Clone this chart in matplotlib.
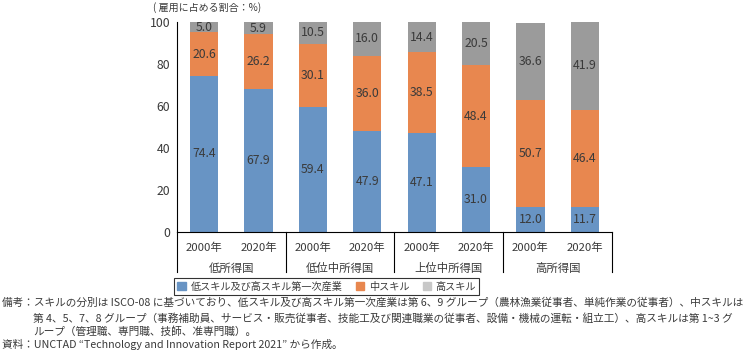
import matplotlib.pyplot as plt
import matplotlib.patches as mpatches
import numpy as np

plt.rcParams['font.family'] = ['Noto Sans CJK JP', 'DejaVu Sans']

# data
years = ['2000年', '2020年'] * 4
groups = ['低所得国', '低位中所得国', '上位中所得国', '高所得国']
low_skill = [74.4, 67.9, 59.4, 47.9, 47.1, 31.0, 12.0, 11.7]
mid_skill = [20.6, 26.2, 30.1, 36.0, 38.5, 48.4, 50.7, 46.4]
high_skill = [5.0, 5.9, 10.5, 16.0, 14.4, 20.5, 36.6, 41.9]
series_names = ['低スキル及び高スキル第一次産業', '中スキル', '高スキル']
yticks = [0, 20, 40, 60, 80, 100]

c_blue = '#6894C4'
c_orange = '#E8874F'
c_gray = '#9B9B9B'
c_text = '#3a3a3a'

fig = plt.figure(figsize=(7.53, 3.56), dpi=100)
ax = fig.add_axes([0.235, 0.3483, 0.5777, 0.59])

x = np.arange(len(years))
w = 0.52
bottoms = np.zeros(len(years))
for vals, col in zip([low_skill, mid_skill, high_skill], [c_blue, c_orange, c_gray]):
    ax.bar(x, vals, w, bottom=bottoms, color=col)
    for xi, b, v in zip(x, bottoms, vals):
        ax.text(xi, b + v / 2, f'{v:.1f}', ha='center', va='center',
                fontsize=8.8, color=c_text)
    bottoms = bottoms + np.array(vals)

ax.set_xlim(-0.5, 7.5)
ax.set_ylim(0, 100)
ax.set_yticks(yticks)
ax.tick_params(axis='y', length=0, labelsize=8.8, labelcolor=c_text, pad=5)
ax.set_xticks([])
for s in ['top', 'right']:
    ax.spines[s].set_visible(False)
ax.spines['left'].set_color('black')
ax.spines['bottom'].set_color('black')
ax.spines['left'].set_linewidth(0.8)
ax.spines['bottom'].set_linewidth(0.8)

# category labels below the axis
trans = ax.get_xaxis_transform()
for xi, yl in zip(x, years):
    ax.text(xi, -0.077, yl, transform=trans, ha='center', va='center',
            fontsize=8.2, color=c_text)
for gi, g in enumerate(groups):
    ax.text(gi * 2 + 0.5, -0.172, g, transform=trans, ha='center', va='center',
            fontsize=8.2, color=c_text)
for sep in [-0.5, 1.5, 3.5, 5.5, 7.5]:
    ax.plot([sep, sep], [0, -0.19], transform=trans, color='black',
            lw=0.8, clip_on=False)

ax.text(-0.055, 1.045, '( 雇用に占める割合：%)', transform=ax.transAxes,
        ha='left', va='bottom', fontsize=7.2, color=c_text)

handles = [mpatches.Patch(color=c_blue), mpatches.Patch(color=c_orange),
           mpatches.Patch(color='#C8C8C8')]
leg = fig.legend(handles, series_names, loc='center', bbox_to_anchor=(0.434, 0.195),
                 ncol=3, fontsize=7.3, frameon=True, fancybox=False,
                 handlelength=0.8, handleheight=0.8, handletextpad=0.5,
                 columnspacing=1.3, borderpad=0.3)
leg.get_frame().set_edgecolor('black')
leg.get_frame().set_linewidth(0.8)
for t in leg.get_texts():
    t.set_color(c_text)

notes = [
    (0.003, 0.149, '備考：スキルの分別は ISCO-08 に基づいており、低スキル及び高スキル第一次産業は第 6、9 グループ（農林漁業従事者、単純作業の従事者）、中スキルは'),
    (0.044, 0.107, '第 4、5、7、8 グループ（事務補助員、サービス・販売従事者、技能工及び関連職業の従事者、設備・機械の運転・組立工）、高スキルは第 1~3 グ'),
    (0.044, 0.068, 'ループ（管理職、専門職、技師、准専門職）。'),
    (0.003, 0.031, '資料：UNCTAD “Technology and Innovation Report 2021” から作成。'),
]
for nx, ny, txt in notes:
    fig.text(nx, ny, txt, ha='left', va='center', fontsize=7.7, color=c_text)

fig.savefig('out.png', dpi=100)
